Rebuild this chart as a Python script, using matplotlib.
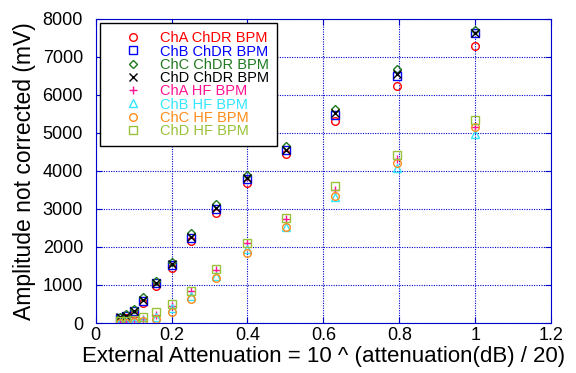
import matplotlib
matplotlib.use("Agg")
import matplotlib.pyplot as plt

plt.rcParams['font.family'] = ['Liberation Sans', 'DejaVu Sans']

# attenuation factor = 10^(-dB/20)
atten = [0.063, 0.079, 0.1, 0.126, 0.158, 0.2, 0.251, 0.316, 0.398, 0.501, 0.631, 0.794, 1.0]

# ChDR BPM amplitudes (mV)
cha_chdr = [60, 130, 235, 524, 960, 1440, 2154, 2898, 3683, 4443, 5300, 6235, 7290]
chb_chdr = [130, 175, 306, 576, 1039, 1518, 2243, 3003, 3788, 4537, 5475, 6500, 7610]
chc_chdr = [170, 235, 366, 673, 1107, 1605, 2375, 3134, 3900, 4641, 5626, 6670, 7700]
chd_chdr = [150, 191, 322, 602, 1047, 1545, 2270, 3029, 3814, 4555, 5520, 6540, 7620]

# HF BPM amplitudes (mV)
cha_hf = [25, 30, 40, 105, 217, 453, 830, 1387, 2094, 2723, 3508, 4310, 5150]
chb_hf = [20, 25, 30, 80, 160, 385, 715, 1238, 1937, 2520, 3300, 4075, 4970]
chc_hf = [8, 10, 15, 60, 105, 296, 628, 1178, 1850, 2531, 3330, 4205, 5150]
chd_hf = [50, 60, 80, 150, 280, 497, 846, 1414, 2113, 2749, 3594, 4406, 5340]

series = [
    ("ChA ChDR BPM", cha_chdr, "o", "#ff0000"),
    ("ChB ChDR BPM", chb_chdr, "s", "#0000ff"),
    ("ChC ChDR BPM", chc_chdr, "D", "#1f7a1f"),
    ("ChD ChDR BPM", chd_chdr, "x", "#000000"),
    ("ChA HF BPM", cha_hf, "+", "#ff1493"),
    ("ChB HF BPM", chb_hf, "^", "#33e6ff"),
    ("ChC HF BPM", chc_hf, "o", "#ff8c1a"),
    ("ChD HF BPM", chd_hf, "s", "#99c23a"),
]

axis_blue = "#0000cc"

fig = plt.figure(figsize=(5.76, 3.73), dpi=100)
ax = fig.add_axes([0.166, 0.134, 0.791, 0.816])

for label, vals, mk, col in series:
    size = 4.3 if mk == "D" else 5.5
    ax.plot(atten, vals, linestyle="none", marker=mk, markersize=size,
            markerfacecolor="none", markeredgecolor=col, markeredgewidth=1.0,
            label=label)

ax.set_xlim(0, 1.2)
ax.set_ylim(0, 8000)
ax.set_xticks([0, 0.2, 0.4, 0.6, 0.8, 1.0, 1.2])
ax.set_xticklabels(["0", "0.2", "0.4", "0.6", "0.8", "1", "1.2"])
ax.set_yticks(range(0, 8001, 1000))

ax.grid(True, color=axis_blue, linestyle=(0, (1, 1.2)), linewidth=0.8)
for s in ax.spines.values():
    s.set_color(axis_blue)
ax.tick_params(direction="in", top=True, right=True, color=axis_blue,
               labelsize=13, length=4, labelcolor="black")
ax.tick_params(axis="y", pad=9)
ax.tick_params(axis="x", pad=3)

ax.set_xlabel("External Attenuation = 10 ^ (attenuation(dB) / 20)", fontsize=16, labelpad=1)
ax.set_ylabel("Amplitude not corrected (mV)", fontsize=16.5, labelpad=5)

leg = ax.legend(loc="upper left", bbox_to_anchor=(0.009, 0.985), fontsize=10.5,
                frameon=True, fancybox=False, framealpha=1, edgecolor="black",
                borderpad=0.55, handlelength=3.4, handletextpad=0.15,
                labelspacing=-0.05, borderaxespad=0, numpoints=1)
leg.get_frame().set_linewidth(1.0)
for txt, (_, _, _, col) in zip(leg.get_texts(), series):
    txt.set_color(col)

fig.savefig("out.png", dpi=100)
